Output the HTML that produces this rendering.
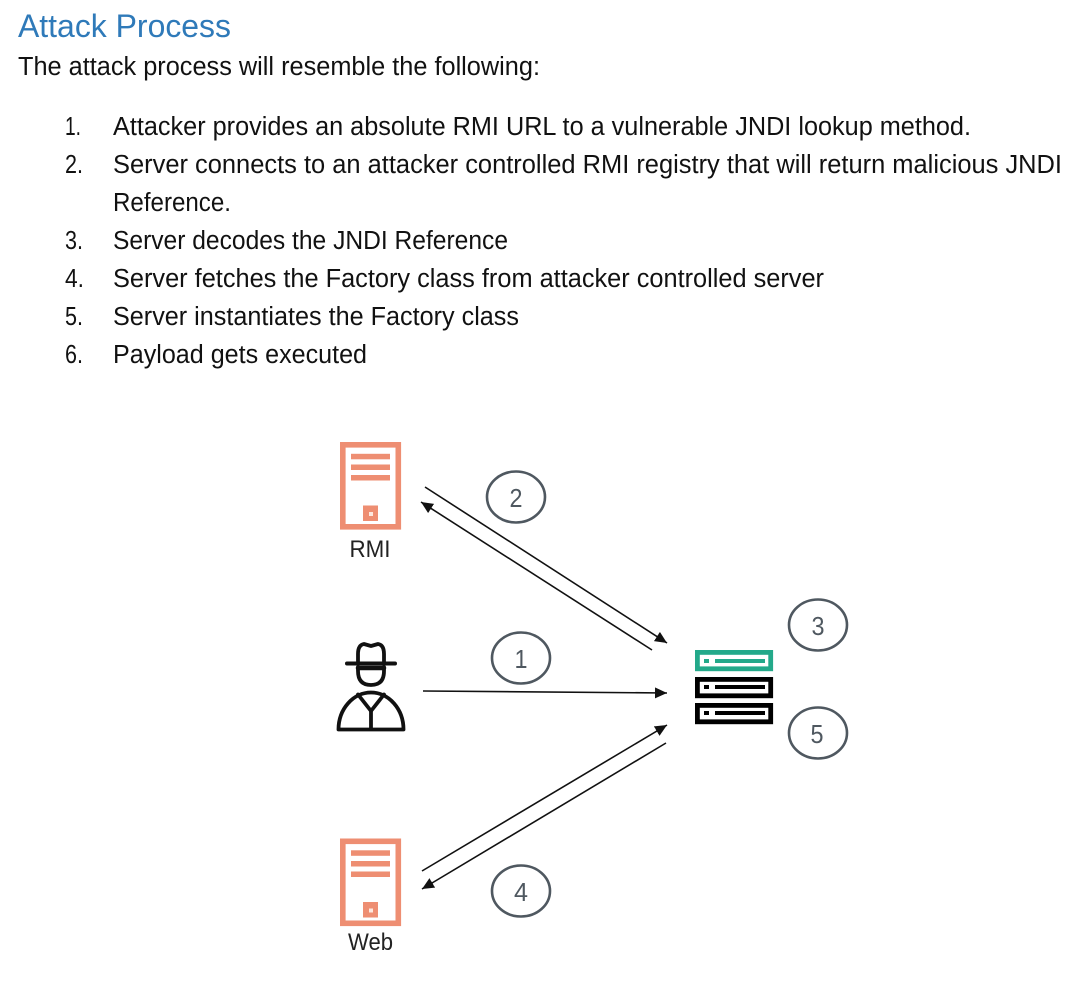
<!DOCTYPE html>
<html>
<head>
<meta charset="utf-8">
<style>
html,body{margin:0;padding:0;background:#fff;width:1086px;height:987px;overflow:hidden}
svg{display:block}
text{font-family:"Liberation Sans",sans-serif}
.b{font-size:25.5px;fill:#111}
.n{font-size:26px;fill:#4f5860;text-anchor:middle}
.d{filter:blur(.3px)}
</style>
</head>
<body>
<svg width="1086" height="987" viewBox="0 0 1086 987" xmlns="http://www.w3.org/2000/svg">
<defs>
<marker id="a" markerUnits="userSpaceOnUse" markerWidth="13" markerHeight="12" refX="12" refY="5.500" orient="auto"><path d="M0 0L12 5.500L0 11Z" fill="#111"/></marker>
<g id="doc">
<rect x="342.800" y="444.800" width="55.500" height="82" fill="#fff" stroke="#ee8e72" stroke-width="5.600"/>
<rect x="351" y="453.800" width="39" height="5.500" fill="#ee8e72"/>
<rect x="351" y="464.500" width="39" height="5.500" fill="#ee8e72"/>
<rect x="351" y="475" width="39" height="5.500" fill="#ee8e72"/>
<rect x="363" y="505.500" width="15" height="15.500" fill="#ee8e72"/>
<rect x="369" y="512" width="4" height="4" fill="#fde8df"/>
</g>
</defs>

<text x="18" y="37" font-size="32" fill="#2f7ab9" textLength="213" lengthAdjust="spacingAndGlyphs">Attack Process</text>
<text class="b" x="18" y="75" textLength="522" lengthAdjust="spacingAndGlyphs">The attack process will resemble the following:</text>

<text class="b" x="65" y="135" textLength="16" lengthAdjust="spacingAndGlyphs">1.</text>
<text class="b" x="113" y="135" textLength="858" lengthAdjust="spacingAndGlyphs">Attacker provides an absolute RMI URL to a vulnerable JNDI lookup method.</text>
<text class="b" x="65" y="173" textLength="18" lengthAdjust="spacingAndGlyphs">2.</text>
<text class="b" x="113" y="173" textLength="949" lengthAdjust="spacingAndGlyphs">Server connects to an attacker controlled RMI registry that will return malicious JNDI</text>
<text class="b" x="113" y="211" textLength="118" lengthAdjust="spacingAndGlyphs">Reference.</text>
<text class="b" x="65" y="249" textLength="18" lengthAdjust="spacingAndGlyphs">3.</text>
<text class="b" x="113" y="249" textLength="395" lengthAdjust="spacingAndGlyphs">Server decodes the JNDI Reference</text>
<text class="b" x="65" y="287" textLength="19" lengthAdjust="spacingAndGlyphs">4.</text>
<text class="b" x="113" y="287" textLength="711" lengthAdjust="spacingAndGlyphs">Server fetches the Factory class from attacker controlled server</text>
<text class="b" x="65" y="325" textLength="18" lengthAdjust="spacingAndGlyphs">5.</text>
<text class="b" x="113" y="325" textLength="406" lengthAdjust="spacingAndGlyphs">Server instantiates the Factory class</text>
<text class="b" x="65" y="363" textLength="18" lengthAdjust="spacingAndGlyphs">6.</text>
<text class="b" x="113" y="363" textLength="254" lengthAdjust="spacingAndGlyphs">Payload gets executed</text>

<g class="d">
<use href="#doc"/>
<use href="#doc" y="396.500"/>
<text x="370" y="557" font-size="24" fill="#222" text-anchor="middle" textLength="41" lengthAdjust="spacingAndGlyphs">RMI</text>
<text x="370.500" y="950" font-size="24" fill="#222" text-anchor="middle" textLength="45" lengthAdjust="spacingAndGlyphs">Web</text>

<!-- spy -->
<g fill="none" stroke="#111" stroke-width="3.800" stroke-linejoin="round" stroke-linecap="round">
<path d="M347 663.500H395" stroke-width="4"/>
<path d="M358 663V654Q358 645 364 644L371 646L378 644Q384 645 384 654V663"/>
<path d="M358 667V671Q358 685 371 685Q384 685 384 671V667"/>
<path d="M358 668H384" stroke-width="4.500"/>
<path d="M338.500 729.500H403.500A32.500 37 0 0 0 338.500 729.500Z"/>
<path d="M358 694.500L371 711L384 694.500"/>
<path d="M371 711V729"/>
</g>

<!-- server -->
<g fill="#fff" stroke-width="4.800">
<rect x="697.400" y="652.400" width="73.300" height="16.400" stroke="#23a98a"/>
<rect x="697.400" y="679.400" width="73.300" height="16.400" stroke="#000"/>
<rect x="697.400" y="705.400" width="73.300" height="16.400" stroke="#000"/>
</g>
<rect x="715" y="659" width="50" height="4" fill="#23a98a"/>
<rect x="704" y="659" width="5" height="4" fill="#23a98a"/>
<rect x="715" y="685" width="50" height="4" fill="#000"/>
<rect x="704" y="685" width="5" height="4" fill="#000"/>
<rect x="715" y="711" width="50" height="4" fill="#000"/>
<rect x="704" y="711" width="5" height="4" fill="#000"/>

<!-- connectors -->
<g stroke="#111" stroke-width="1.600" fill="none">
<path d="M425 487L667 643" marker-end="url(#a)"/>
<path d="M652 650L421 502" marker-end="url(#a)"/>
<path d="M423 691L667 693" marker-end="url(#a)"/>
<path d="M422 871L667 725" marker-end="url(#a)"/>
<path d="M666 743L422 889" marker-end="url(#a)"/>
</g>

<!-- circles -->
<g fill="none" stroke="#4f5860" stroke-width="2.600">
<ellipse cx="516" cy="497" rx="29" ry="25.500"/>
<ellipse cx="521" cy="658" rx="29" ry="25.500"/>
<ellipse cx="818" cy="625" rx="29" ry="25.500"/>
<ellipse cx="818" cy="733" rx="29" ry="25.500"/>
<ellipse cx="521" cy="891" rx="29" ry="25.500"/>
</g>
<text class="n" x="516" y="507" textLength="13" lengthAdjust="spacingAndGlyphs">2</text>
<text class="n" x="521" y="668" textLength="13" lengthAdjust="spacingAndGlyphs">1</text>
<text class="n" x="818" y="635" textLength="13" lengthAdjust="spacingAndGlyphs">3</text>
<text class="n" x="817" y="743" textLength="13" lengthAdjust="spacingAndGlyphs">5</text>
<text class="n" x="521" y="901" textLength="14" lengthAdjust="spacingAndGlyphs">4</text>
</g>
</svg>
</body>
</html>
